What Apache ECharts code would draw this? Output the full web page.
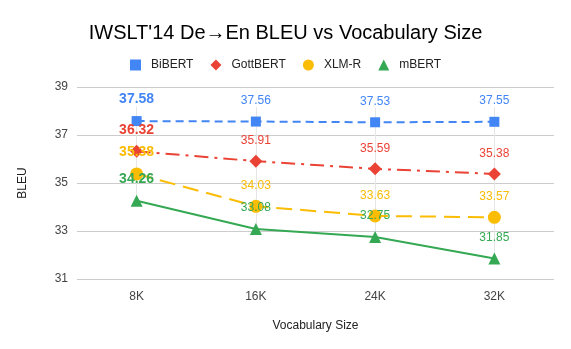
<!DOCTYPE html>
<html><head><meta charset="utf-8">
<script src="https://cdn.jsdelivr.net/npm/echarts@6/dist/echarts.min.js"></script>
<style>html,body{margin:0;padding:0;background:#fff}#c{width:571px;height:349px}</style>
</head><body><div id="c"></div>
<script>
var categories = ['8K', '16K', '24K', '32K'];
var bibert = [37.58, 37.56, 37.53, 37.55];
var gottbert = [36.32, 35.91, 35.59, 35.38];
var xlmr = [35.38, 34.03, 33.63, 33.57];
var mbert = [34.26, 33.08, 32.75, 31.85];
var yTicks = [31, 33, 35, 37, 39];

var FONT = '"Liberation Sans", Arial, sans-serif';
var chart = echarts.init(document.getElementById('c'), null, {renderer: 'canvas'});

function mkSeries(name, arr, color, symbol, size, lineType, dist) {
  return {
    name: name, type: 'line',
    data: arr.map(function (v, i) {
      var d = {value: v};
      if (i === 0) d.label = {fontWeight: 'bold', fontSize: 14};
      return d;
    }),
    symbol: symbol, symbolSize: size,
    itemStyle: {color: color},
    lineStyle: {color: color, width: 2, type: lineType},
    label: {show: true, position: 'top', distance: dist, color: color, fontSize: 12, fontFamily: FONT,
      formatter: function (p) { return Number(p.value).toFixed(2); }},
    z: 3
  };
}

var vlines = categories.map(function (c, i) {
  var top = Math.max(bibert[i], gottbert[i], xlmr[i], mbert[i]);
  var low = Math.min(bibert[i], gottbert[i], xlmr[i], mbert[i]);
  return [{coord: [c, low]}, {coord: [c, top + 0.6]}];
});

var series = [
  mkSeries('BiBERT', bibert, '#4285F4', 'rect', 10, [8, 5], 10),
  mkSeries('GottBERT', gottbert, '#EA4335', 'diamond', 13, [14, 6, 3, 6], 8),
  mkSeries('XLM-R', xlmr, '#FBBC04', 'circle', 13, [16, 8], 8),
  mkSeries('mBERT', mbert, '#34A853', 'triangle', 12, 'solid', 9)
];
series[3].markLine = {
  silent: true, symbol: 'none', label: {show: false},
  lineStyle: {color: '#e6e6e6', width: 1, type: 'solid'},
  data: vlines, z: 1
};

chart.setOption({
  animation: false,
  backgroundColor: '#fff',
  textStyle: {fontFamily: FONT},
  title: {
    text: "IWSLT'14 De\u2192En BLEU vs Vocabulary Size", left: 'center', top: 18,
    textStyle: {fontFamily: FONT, fontSize: 20, fontWeight: 'normal', color: '#000'}
  },
  legend: {
    top: 54, left: 'center', itemWidth: 11, itemHeight: 11, itemGap: 17,
    textStyle: {fontFamily: FONT, fontSize: 12, color: '#222', padding: [0, 0, 0, 5]},
    data: [
      {name: 'BiBERT', icon: 'rect'},
      {name: 'GottBERT', icon: 'diamond'},
      {name: 'XLM-R', icon: 'circle'},
      {name: 'mBERT', icon: 'triangle'}
    ]
  },
  grid: {left: 77, right: 17, top: 87, bottom: 70},
  xAxis: {
    type: 'category', data: categories, boundaryGap: true,
    name: 'Vocabulary Size', nameLocation: 'middle', nameGap: 41,
    nameTextStyle: {fontFamily: FONT, fontSize: 12, color: '#222'},
    axisLine: {show: false}, axisTick: {show: false}, splitLine: {show: false},
    axisLabel: {margin: 12, fontFamily: FONT, fontSize: 12, color: '#444'}
  },
  yAxis: {
    type: 'value', min: yTicks[0], max: yTicks[yTicks.length - 1], interval: 2,
    name: 'BLEU', nameLocation: 'middle', nameGap: 48,
    nameTextStyle: {fontFamily: FONT, fontSize: 12, color: '#222'},
    axisLine: {show: false}, axisTick: {show: false},
    splitLine: {lineStyle: {color: '#cccccc', width: 1}},
    axisLabel: {fontFamily: FONT, fontSize: 12, color: '#444', margin: 9}
  },
  series: series
});
</script></body></html>
